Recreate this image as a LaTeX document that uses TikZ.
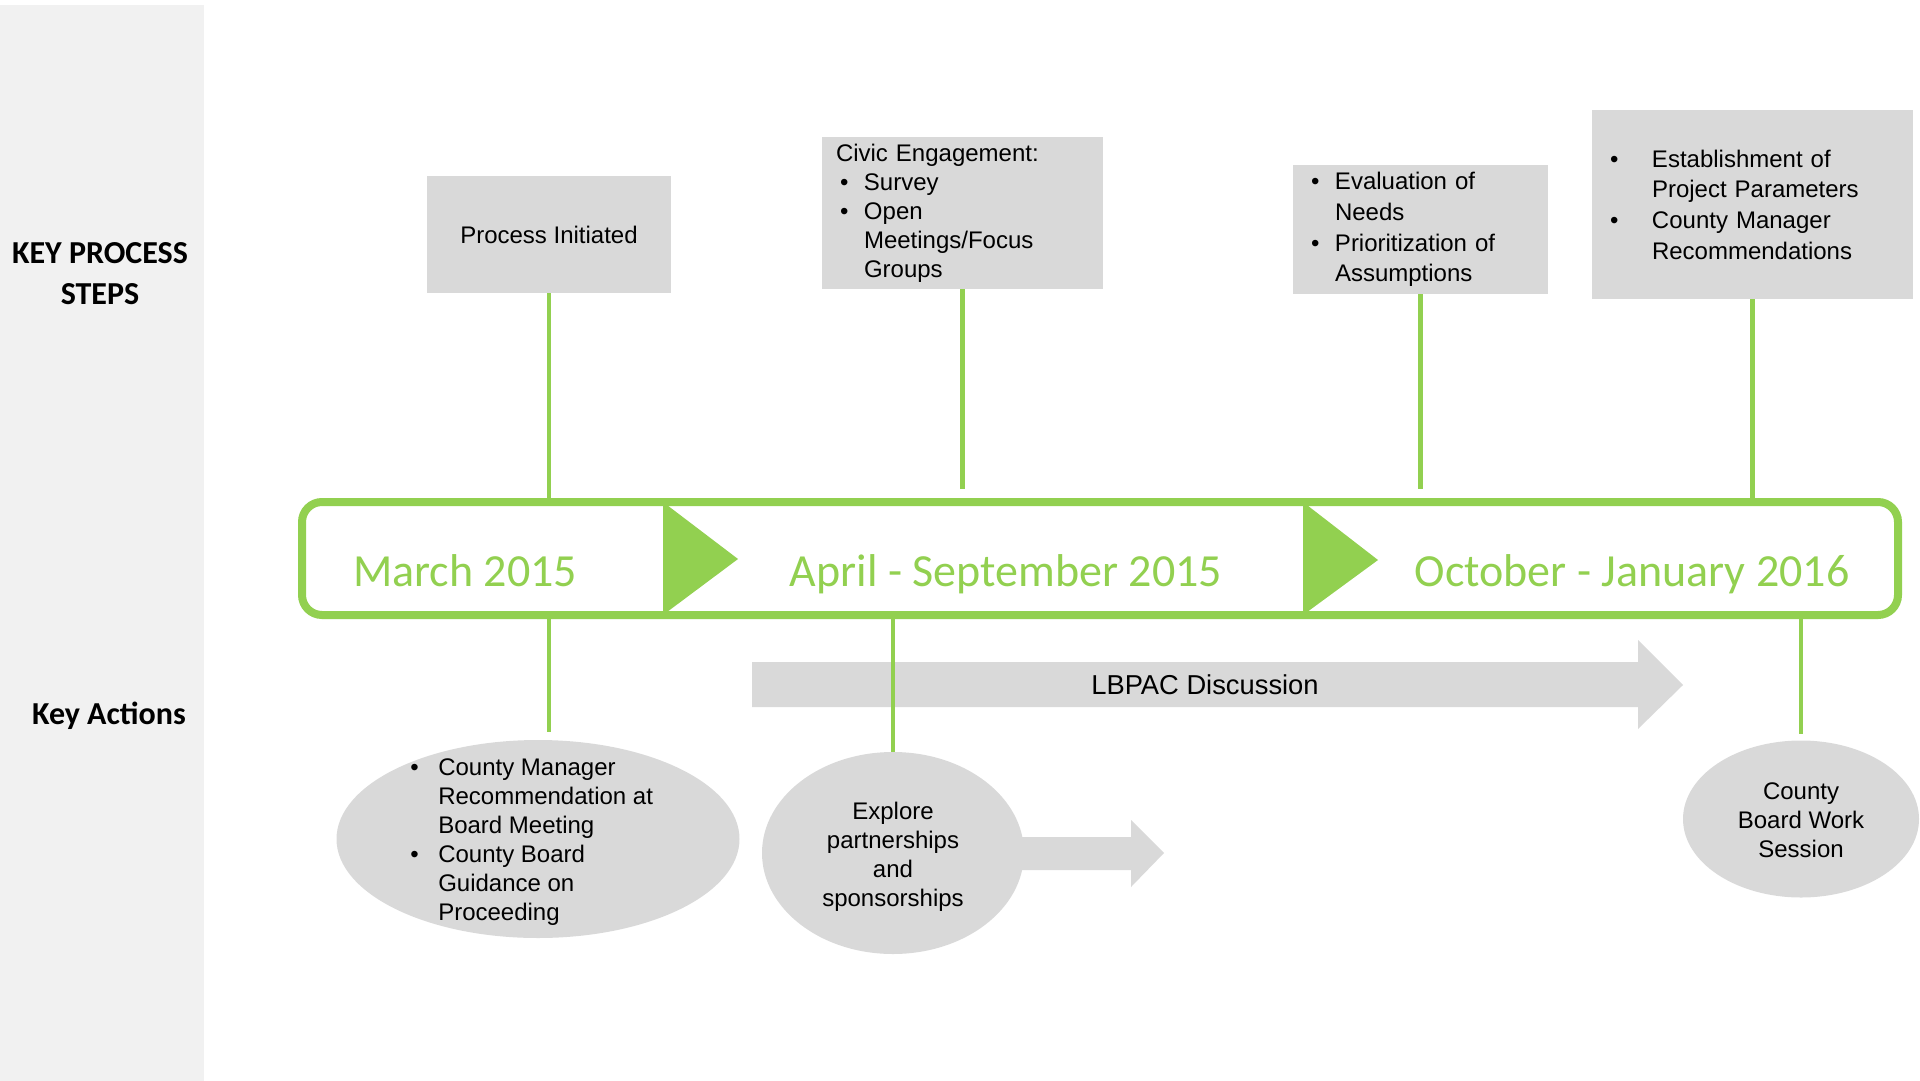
\documentclass[tikz,border=0pt]{standalone}
\usepackage{fontspec}
\setmainfont{Liberation Sans}
\newfontfamily\calfont{Carlito}
\usetikzlibrary{calc,shapes.geometric}
\definecolor{tlgreen}{HTML}{92D050}
\definecolor{boxgray}{HTML}{D9D9D9}
\definecolor{panelgray}{HTML}{F1F1F1}
\newcommand\bul[2]{\makebox[#1][l]{\hspace{#2}\textbullet}}
\begin{document}
\begin{tikzpicture}[x=0.75pt,y=-0.75pt,
  box/.style={fill=boxgray, inner ysep=0pt, font=\fontsize{18}{21.75}\selectfont},
  bubble/.style={ellipse, fill=boxgray, inner sep=0pt},
  gline/.style={draw=tlgreen, line width=3.4pt},
  period/.style={text=tlgreen, font=\calfont\fontsize{34.5}{40}\selectfont, anchor=base, inner sep=0pt},
  head/.style={font=\calfont\bfseries\fontsize{24}{30.75}\selectfont, anchor=base, inner sep=0pt},
  body/.style={font=\fontsize{18}{21.75}\selectfont, align=left, inner sep=0pt}
]
\useasboundingbox (0,0) rectangle (1920,1081);
% left panel
\fill[panelgray] (0,5) rectangle (204,1081);
\node[head] (kps1) at (100,263) {KEY PROCESS};
\node[head] (kps2) at (100,304) {STEPS};
\node[head] (ka) at (109,724) {Key Actions};

% top boxes
\node[box, minimum width=183pt, minimum height=87.75pt] (pi) at (549,234.5) {Process Initiated};
\node[box, text width=189.75pt, inner xsep=10.5pt, minimum height=114pt, align=left] (ce) at (962.5,213)
  {Civic Engagement:\\ \bul{21pt}{3pt}Survey\\ \bul{21pt}{3pt}Open\\ \hspace*{21pt}Meetings/Focus\\ \hspace*{21pt}Groups};
\node[box, text width=164.25pt, inner xsep=13.5pt, minimum height=96.75pt, align=left, font=\fontsize{18}{23}\selectfont] (ev) at (1420.5,229.5)
  {\bul{18pt}{0pt}Evaluation of\\ \hspace*{18pt}Needs\\ \bul{18pt}{0pt}Prioritization of\\ \hspace*{18pt}Assumptions};
\node[box, text width=213.75pt, inner xsep=13.5pt, minimum height=141.75pt, align=left, font=\fontsize{18}{23}\selectfont] (es) at (1752.5,204.5)
  {\bul{31.5pt}{0pt}Establishment of\\ \hspace*{31.5pt}Project Parameters\\ \bul{31.5pt}{0pt}County Manager\\ \hspace*{31.5pt}Recommendations};

% timeline
\node[draw=tlgreen, line width=6pt, rounded corners=15pt, fill=white, minimum width=1197pt, minimum height=84.75pt, inner sep=0pt] (tl) at (1100,558.5) {};
\fill[tlgreen] (663,502) -- (738,559) -- (663,615) -- cycle;
\fill[tlgreen] (1303,502) -- (1378,560) -- (1303,615) -- cycle;
\node[period] (m1) at (465,586) {March 2015};
\node[period] (m2) at (1006,586) {April - September 2015};
\node[period] (m3) at (1632,586) {October - January 2016};

% top connectors
\draw[gline] (pi.south) -- (pi.south |- tl.north);
\draw[gline, shorten >=6.75pt] (ce.south) -- (ce.south |- tl.north);
\draw[gline, shorten >=6.75pt] (ev.south) -- (ev.south |- tl.north);
\draw[gline] (es.south) -- (es.south |- tl.north);

% LBPAC arrow
\fill[boxgray] (752,662) -- (1638,662) -- (1638,640) -- (1683,685) -- (1638,729) -- (1638,707) -- (752,707) -- cycle;
\node[font=\fontsize{20.5}{24}\selectfont, inner sep=0pt] (lb) at (1205,685) {LBPAC Discussion};

% small arrow
\fill[boxgray] (960,837) -- (1131,837) -- (1131,820) -- (1164,853) -- (1131,887) -- (1131,870) -- (960,870) -- cycle;

% bubbles
\node[bubble, minimum width=302.25pt, minimum height=148.5pt] (e1) at (538,839) {};
\node[bubble, minimum width=196.5pt, minimum height=151.5pt] (e2) at (893,853) {};
\node[bubble, minimum width=177pt, minimum height=117.75pt] (e3) at (1801,819) {};

\node[body, anchor=west] (e1t) at (410,842)
  {\bul{21pt}{0pt}County Manager\\ \hspace*{21pt}Recommendation at\\ \hspace*{21pt}Board Meeting\\ \bul{21pt}{0pt}County Board\\ \hspace*{21pt}Guidance on\\ \hspace*{21pt}Proceeding};
\node[body, align=center] (e2t) at (893,857) {Explore\\partnerships\\and\\sponsorships};
\node[body, align=center] (e3t) at (1801,820) {County\\Board Work\\Session};

% bottom connectors
\draw[gline, shorten >=6pt] (tl.south -| pi.south) -- (pi.south |- e1.north);
\draw[gline] (tl.south -| e2.north) -- (e2.north);
\draw[gline, shorten >=4.5pt] (tl.south -| e3.north) -- (e3.north);
\end{tikzpicture}
\end{document}
